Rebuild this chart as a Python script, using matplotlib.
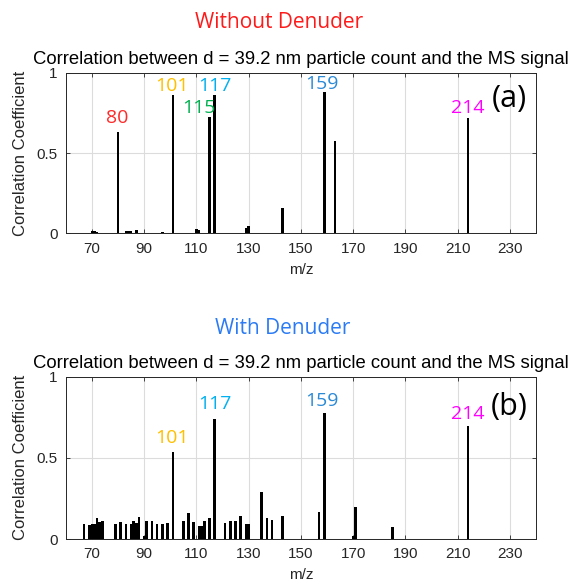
import matplotlib
matplotlib.use("Agg")
import matplotlib.pyplot as plt

# m/z and correlation coefficient, without denuder
mz_a = [70, 71, 72, 80, 83, 84, 85, 87, 97, 101, 110, 111, 115, 117,
        129, 130, 143, 159, 163, 214]
r_a = [0.015, 0.012, 0.01, 0.633, 0.012, 0.012, 0.015, 0.018, 0.006, 0.861,
       0.025, 0.02, 0.726, 0.861, 0.03, 0.045, 0.16, 0.882, 0.575, 0.716]

# with denuder
mz_b = [67, 69, 70, 71, 72, 73, 74, 79, 81, 83, 85, 86, 87, 88, 90, 91, 93,
        95, 97, 99, 101, 105, 107, 109, 111, 112, 113, 115, 117, 121, 123,
        125, 127, 129, 130, 135, 137, 139, 143, 157, 159, 170, 171, 185, 214]
r_b = [0.09, 0.086, 0.09, 0.09, 0.13, 0.107, 0.113, 0.09, 0.107, 0.09,
       0.092, 0.113, 0.10, 0.138, 0.02, 0.113, 0.113, 0.09, 0.09, 0.097,
       0.538, 0.113, 0.162, 0.107, 0.08, 0.08, 0.113, 0.13, 0.737, 0.097,
       0.113, 0.113, 0.144, 0.09, 0.09, 0.287, 0.13, 0.12, 0.144, 0.168,
       0.778, 0.02, 0.195, 0.076, 0.696]

# peak labels: (text, x, y, colour)
labels_a = [("80", 79.6, 0.716, "#ff2a2a"), ("101", 100.6, 0.918, "#ffc000"),
            ("115", 111.1, 0.783, "#00b050"), ("117", 117.1, 0.918, "#00b0f0"),
            ("159", 157.9, 0.928, "#2b8ad6"), ("214", 213.9, 0.783, "#ff00ff")]
labels_b = [("101", 100.6, 0.625, "#ffc000"), ("117", 117.1, 0.83, "#00b0f0"),
            ("159", 157.9, 0.851, "#2b8ad6"), ("214", 213.9, 0.769, "#ff00ff")]

xticks = [70, 90, 110, 130, 150, 170, 190, 210, 230]
subtitle = "Correlation between d = 39.2 nm particle count and the MS signal"

fig = plt.figure(figsize=(5.74, 5.86), dpi=100)
ax1 = fig.add_axes([0.1145, 0.6019, 0.8193, 0.274])
ax2 = fig.add_axes([0.1145, 0.0802, 0.8193, 0.277])


def draw_panel(ax, mz, r, labels, tag, ytag):
    ax.bar(mz, r, width=1.0, color="k", zorder=3)
    ax.set_xlim(60, 240)
    ax.set_ylim(0, 1)
    ax.set_xticks(xticks)
    ax.set_yticks([0, 0.5, 1])
    ax.set_yticklabels(["0", "0.5", "1"])
    ax.grid(True, color="#dcdcdc", linewidth=0.8, zorder=0)
    ax.tick_params(direction="in", top=True, right=True, length=3, pad=6,
                   labelsize=11, colors="#262626", width=0.6)
    for s in ax.spines.values():
        s.set_color("#262626")
        s.set_linewidth(0.7)
    ax.set_xlabel("m/z", fontsize=11, color="#262626", family="Liberation Sans",
                  labelpad=5)
    ax.set_ylabel("Correlation Coefficient", fontsize=12, color="#262626",
                  family="Liberation Sans", labelpad=6)
    ax.set_title(subtitle, fontsize=13.3, family="Liberation Sans", pad=6)
    for t, x, y, c in labels:
        ax.text(x, y, t, color=c, fontsize=14, family="Open Sans",
                ha="center", va="center")
    ax.text(229.8, ytag, tag, fontsize=22, family="Open Sans",
            ha="center", va="center")
    for lab in ax.get_xticklabels() + ax.get_yticklabels():
        lab.set_family("Liberation Sans")


draw_panel(ax1, mz_a, r_a, labels_a, "(a)", 0.836)
draw_panel(ax2, mz_b, r_b, labels_b, "(b)", 0.815)

fig.text(0.487, 1 - 23 / 586, "Without Denuder", color="#ff1a1a", fontsize=15,
         family="Open Sans", ha="center", va="center")
fig.text(0.493, 1 - 329 / 586, "With Denuder", color="#2a7bf5", fontsize=15,
         family="Open Sans", ha="center", va="center")

fig.savefig("out.png", dpi=100)
